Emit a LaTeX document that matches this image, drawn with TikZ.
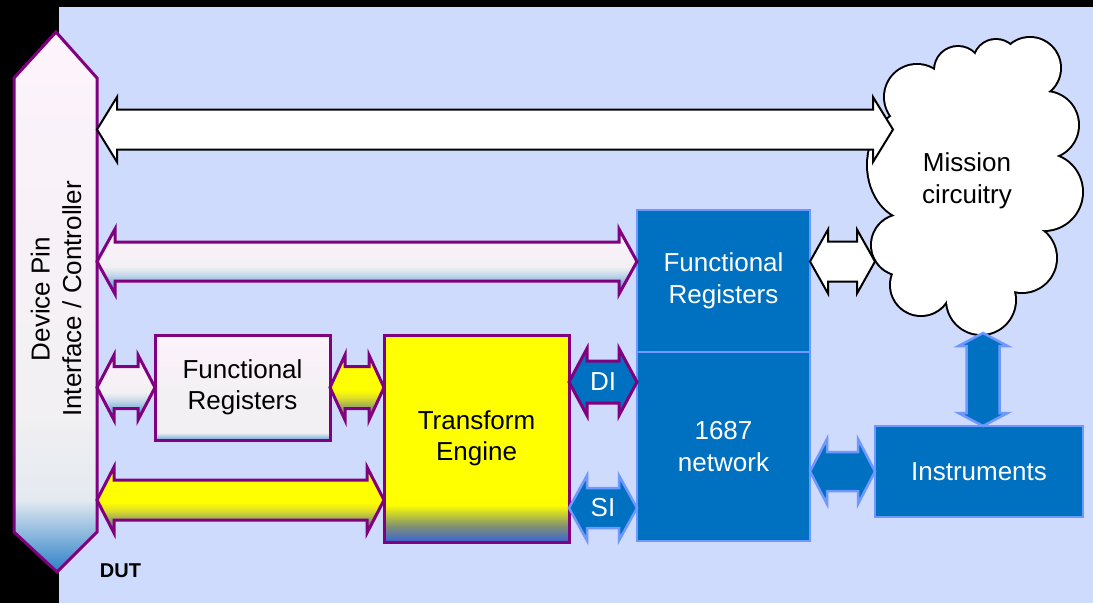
\documentclass[tikz,border=0pt]{standalone}
\usepackage{fontspec}
\setmainfont{Liberation Sans}
\usetikzlibrary{calc}

\definecolor{bgblue}{RGB}{206,219,252}
\definecolor{purp}{RGB}{128,0,128}
\definecolor{mblue}{RGB}{0,112,192}
\definecolor{lblue}{RGB}{110,152,255}
\definecolor{pinkw}{RGB}{253,243,252}
\definecolor{greyw}{RGB}{242,240,243}
\definecolor{paleb}{RGB}{228,234,240}
\definecolor{deepb}{RGB}{42,128,200}
\definecolor{midb}{RGB}{112,170,216}
\definecolor{softb}{RGB}{198,218,234}
\definecolor{yel}{RGB}{255,255,0}
\definecolor{yelg}{RGB}{222,222,40}
\definecolor{olive}{RGB}{130,148,110}
\definecolor{steelb}{RGB}{74,112,192}
\definecolor{royb}{RGB}{58,96,216}

% vertical shadings: the filled path spans 25bp (bottom) to 75bp (top)
\pgfdeclareverticalshading{hexshade}{100bp}{color(0bp)=(deepb); color(25bp)=(deepb); color(31.7bp)=(paleb); color(40bp)=(greyw); color(75bp)=(pinkw); color(100bp)=(pinkw)}
\pgfdeclareverticalshading{frlshade}{100bp}{color(0bp)=(deepb!70!white); color(25bp)=(deepb!70!white); color(28.5bp)=(greyw); color(45bp)=(greyw); color(75bp)=(pinkw); color(100bp)=(pinkw)}
\pgfdeclareverticalshading{greyshade}{100bp}{color(0bp)=(deepb); color(25bp)=(deepb); color(32bp)=(midb); color(40bp)=(softb); color(46bp)=(greyw); color(75bp)=(pinkw); color(100bp)=(pinkw)}
\pgfdeclareverticalshading{yellowshade}{100bp}{color(0bp)=(steelb); color(25bp)=(steelb); color(33bp)=(olive); color(42bp)=(yelg); color(48bp)=(yel); color(75bp)=(yel); color(100bp)=(yel)}
\pgfdeclareverticalshading{teshade}{100bp}{color(0bp)=(royb); color(25bp)=(royb); color(29bp)=(olive); color(34bp)=(yel); color(75bp)=(yel); color(100bp)=(yel)}

% horizontal block arrow: style, left tip, right tip, shaft half-height, head half-height, head length
\newcommand{\blockarrowH}[6]{%
  \draw[#1] (#2) -- ++(#6,-#5) -- ++(0,#5-#4) -- ($(#3)+(-#6,-#4)$) -- ++(0,#4-#5)
    -- (#3) -- ++(-#6,#5) -- ++(0,#4-#5) -- ($(#2)+(#6,#4)$) -- ++(0,#5-#4) -- cycle;}
% vertical block arrow: style, top tip, bottom tip, shaft half-width, head half-width, head length
\newcommand{\blockarrowV}[6]{%
  \draw[#1] (#2) -- ++(#5,#6) -- ++(#4-#5,0) -- ($(#3)+(#4,-#6)$) -- ++(#5-#4,0)
    -- (#3) -- ++(-#5,-#6) -- ++(#5-#4,0) -- ($(#2)+(-#4,#6)$) -- ++(#4-#5,0) -- cycle;}

\tikzset{
  lab/.style={font=\fontsize{26}{31.5}\selectfont, align=center, inner sep=0},
  frame/.style={inner sep=0, outer sep=0},
  purpline/.style={draw=purp, line width=3pt},
  lightbox/.style={frame, purpline, shade, shading=frlshade},
  yellowbox/.style={frame, purpline, shade, shading=teshade},
  bluebox/.style={frame, draw=lblue, line width=2.5pt, fill=mblue, text=white},
  whitearrow/.style={draw=black, line width=2pt, fill=white},
  greyarrow/.style={purpline, shade, shading=greyshade},
  yellowarrow/.style={purpline, shade, shading=yellowshade},
  diarrow/.style={purpline, fill=mblue},
  bluearrow/.style={draw=lblue, line width=2.5pt, fill=mblue},
  wlab/.style={lab, text=white},
}

\begin{document}
\begin{tikzpicture}[x=1pt,y=-1pt]
\useasboundingbox (0,0) rectangle (1093,603);
\fill[black] (0,0) rectangle (1093,603);
\fill[bgblue] (59,7) rectangle (1093,603);

% device pin interface (elongated hexagon)
\node[frame, minimum width=83, minimum height=454] (dp) at (55.5,305) {};
\draw[purpline, shade, shading=hexshade] (dp.north west) -- (56,32) -- (dp.north east)
  -- (dp.south east) -- (57,572) -- (dp.south west) -- cycle;
\node[lab, rotate=90] (dptxt) at (56,299) {Device Pin\\Interface / Controller};
\node[font=\bfseries\fontsize{20}{24}\selectfont, inner sep=0] (dut) at (120.5,571) {DUT};

% mission circuitry cloud: black rim, then white body
\foreach \cx/\cy/\r in {917/97/32, 958/70/23, 996/62/22, 1030/68/30, 1045/125/33,
    1044/192/38, 1022/258/34, 981/300/34, 921/285/30, 902/245/30}
  \fill[black] (\cx,\cy) circle[radius=\r+2];
\fill[black] (912,165) ellipse[x radius=46, y radius=57];
\foreach \cx/\cy/\r in {917/97/32, 958/70/23, 996/62/22, 1030/68/30, 1045/125/33,
    1044/192/38, 1022/258/34, 981/300/34, 921/285/30, 902/245/30}
  \fill[white] (\cx,\cy) circle[radius=\r];
\fill[white] (912,165) ellipse[x radius=44, y radius=55];
\fill[white] (917,97) -- (958,70) -- (996,62) -- (1030,68) -- (1045,125) -- (1044,192)
  -- (1022,258) -- (981,300) -- (921,285) -- (902,245) -- (912,165) -- cycle;
\node[lab] (mc) at (967,181) {Mission\\circuitry};

% blocks
\node[lightbox, lab, minimum width=175, minimum height=105] (frl) at (242.5,387.5) {Functional\\Registers};
\node[yellowbox, lab, minimum width=185, minimum height=207] (te) at (476.5,438.5) {Transform\\Engine};
\node[bluebox, lab, minimum width=173, minimum height=142] (frb) at (723.5,281) {Functional\\Registers};
\node[bluebox, lab, minimum width=173, minimum height=189] (net) at (723.5,446.5) {1687\\network};
\node[bluebox, lab, minimum width=208, minimum height=91] (ins) at (979,471.5) {Instruments};

% row levels and free ends at the cloud
\coordinate (y1) at (0,129.5);
\coordinate (y2) at (0,261.5);
\coordinate (y4) at (0,500);
\coordinate (yDI) at (0,382);
\coordinate (ySI) at (0,508);
\coordinate (cloudW) at (893,129.5);
\coordinate (cloudE) at (875,261.5);
\coordinate (cloudS) at (983,333);

% connectors
\blockarrowH{whitearrow}{dp.east |- y1}{cloudW}{20}{32.5}{20}
\blockarrowH{greyarrow}{dp.east |- y2}{frb.west |- y2}{19.5}{32.5}{18}
\blockarrowH{greyarrow}{dp.east |- frl.west}{frl.west}{21}{32.5}{17}
\blockarrowH{yellowarrow}{frl.east}{te.west |- frl.east}{21}{32.5}{15}
\blockarrowH{yellowarrow}{dp.east |- y4}{te.west |- y4}{20}{33}{17}
\blockarrowH{diarrow}{te.east |- yDI}{net.west |- yDI}{21}{33.5}{18}
\blockarrowH{bluearrow}{te.east |- ySI}{net.west |- ySI}{20}{32.5}{18}
\blockarrowH{whitearrow}{frb.east |- y2}{cloudE}{20}{32}{18}
\blockarrowH{bluearrow}{net.east |- ins.west}{ins.west}{19.5}{32.5}{17}
\blockarrowV{bluearrow}{cloudS}{ins.north -| cloudS}{16.5}{24.5}{13}

\node[wlab] (di) at ($(te.east |- yDI)!0.5!(net.west |- yDI)$) {DI};
\node[wlab] (si) at ($(te.east |- ySI)!0.5!(net.west |- ySI)$) {SI};
\end{tikzpicture}
\end{document}
